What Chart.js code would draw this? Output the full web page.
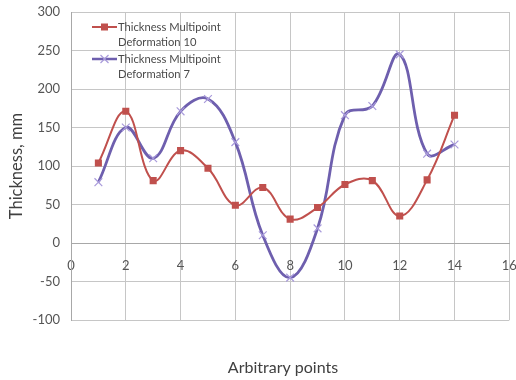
<!DOCTYPE html>
<html>
<head>
<meta charset="utf-8">
<script src="https://cdn.jsdelivr.net/npm/chart.js@4/dist/chart.umd.min.js"></script>
<style>
  html, body { margin: 0; padding: 0; background: #ffffff; }
  #wrap { width: 516px; height: 380px; position: relative; }
</style>
</head>
<body>
<div id="wrap"><canvas id="c" width="516" height="380"></canvas></div>
<script>
// Measurement positions along the part
const points = [1, 2, 3, 4, 5, 6, 7, 8, 9, 10, 11, 12, 13, 14];
// Thickness readings (mm) for each forming setup
const deformation10 = [104, 171, 81, 120, 97, 49, 72, 31, 46, 76, 81, 35, 82, 166];
const deformation7  = [79, 150, 110, 171, 187, 131, 10, -45, 19, 166, 178, 245, 116, 128];
// Axis ranges and tick spacing
const xRange = [0, 16];
const xStep = 2;
const yRange = [-100, 300];
const yStep = 50;
const seriesLabels = [
  ['Thickness Multipoint', 'Deformation 10'],
  ['Thickness Multipoint', 'Deformation 7']
];
const axisTitles = { x: 'Arbitrary points', y: 'Thickness, mm' };

const FONT = 'Lato, "Liberation Sans", sans-serif';
const RED = '#c0504d';
const PURPLE = '#6e5fae';
const PURPLE_MARK = '#a99bdb';

const toXY = (vals) => vals.map((v, i) => ({ x: points[i], y: v }));

// Two-line legend entries drawn inside the plot, plus the bottom caption
const legendPlugin = {
  id: 'innerLegend',
  afterDraw(chart) {
    const ctx = chart.ctx;
    const entries = [
      { color: RED, mark: 'rect', y: 27, lines: seriesLabels[0] },
      { color: PURPLE, mark: 'cross', y: 59, lines: seriesLabels[1] }
    ];
    ctx.save();
    entries.forEach(e => {
      ctx.strokeStyle = e.color;
      ctx.lineWidth = e.mark === 'rect' ? 2 : 2.5;
      ctx.beginPath();
      ctx.moveTo(92, e.y);
      ctx.lineTo(117, e.y);
      ctx.stroke();
      if (e.mark === 'rect') {
        ctx.fillStyle = RED;
        ctx.fillRect(101, e.y - 3.5, 7, 7);
      } else {
        ctx.strokeStyle = PURPLE_MARK;
        ctx.lineWidth = 1.2;
        ctx.beginPath();
        ctx.moveTo(100.5, e.y - 4); ctx.lineTo(108.5, e.y + 4);
        ctx.moveTo(100.5, e.y + 4); ctx.lineTo(108.5, e.y - 4);
        ctx.stroke();
      }
      ctx.fillStyle = '#4a4a4a';
      ctx.font = '11.2px ' + FONT;
      ctx.textAlign = 'left';
      ctx.textBaseline = 'middle';
      ctx.fillText(e.lines[0], 118, e.y);
      ctx.fillText(e.lines[1], 118, e.y + 15);
    });
    ctx.fillStyle = '#404040';
    ctx.font = '16px ' + FONT;
    ctx.textAlign = 'center';
    ctx.textBaseline = 'middle';
    ctx.fillText(axisTitles.x, 283, 368);
    ctx.restore();
  }
};

new Chart(document.getElementById('c'), {
  type: 'line',
  data: {
    datasets: [
      {
        label: seriesLabels[0].join(' '),
        data: toXY(deformation10),
        borderColor: RED,
        backgroundColor: RED,
        borderWidth: 2,
        pointStyle: 'rect',
        pointRadius: 5,
        pointBorderWidth: 0,
        pointBackgroundColor: RED,
        tension: 0.4,
        fill: false
      },
      {
        label: seriesLabels[1].join(' '),
        data: toXY(deformation7),
        borderColor: PURPLE,
        backgroundColor: PURPLE,
        borderWidth: 2.8,
        pointStyle: 'crossRot',
        pointRadius: 5.5,
        pointBorderWidth: 1.2,
        pointBorderColor: PURPLE_MARK,
        tension: 0.4,
        fill: false
      }
    ]
  },
  options: {
    responsive: false,
    animation: false,
    devicePixelRatio: 1,
    layout: { padding: { top: 12, right: 5, bottom: 60, left: 0 } },
    plugins: {
      legend: { display: false },
      tooltip: { enabled: false }
    },
    scales: {
      x: {
        type: 'linear',
        position: { y: 0 },
        min: xRange[0],
        max: xRange[1],
        offset: false,
        ticks: {
          stepSize: xStep,
          padding: 15,
          color: '#555555',
          font: { family: FONT, size: 13 },
          maxRotation: 0
        },
        grid: { color: '#c6c6c6', lineWidth: 1, drawTicks: false },
        border: { color: '#a8a8a8', width: 1 },
        afterFit(scale) { scale.paddingLeft = 0; scale.paddingRight = 0; }
      },
      y: {
        type: 'linear',
        position: 'left',
        min: yRange[0],
        max: yRange[1],
        ticks: {
          stepSize: yStep,
          padding: 11,
          color: '#555555',
          font: { family: FONT, size: 13 }
        },
        grid: { color: '#c6c6c6', lineWidth: 1, drawTicks: false },
        border: { color: '#a8a8a8', width: 1 },
        title: {
          display: true,
          text: axisTitles.y,
          color: '#404040',
          font: { family: FONT, size: 16.5 },
          padding: { top: 7, bottom: 0 }
        },
        afterFit(scale) {
          scale.width = 71;
          scale.paddingTop = 0;
          scale.paddingBottom = 0;
        }
      }
    }
  },
  plugins: [legendPlugin]
});
</script>
</body>
</html>
